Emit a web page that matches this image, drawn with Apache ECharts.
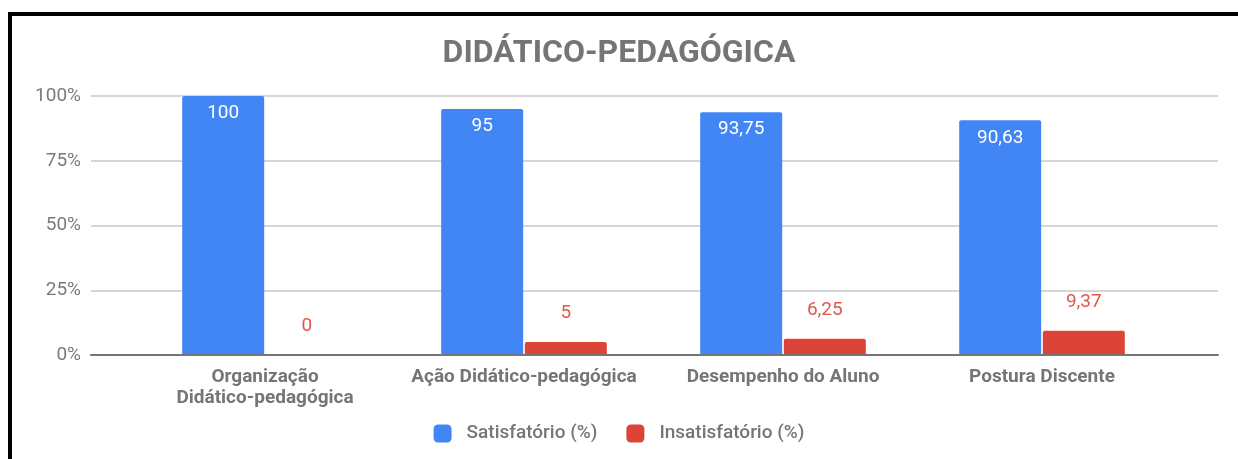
<!DOCTYPE html>
<html>
<head>
<meta charset="utf-8">
<script src="https://cdn.jsdelivr.net/npm/echarts@6/dist/echarts.min.js"></script>
<style>
html,body{margin:0;padding:0;background:#fff;}
#chart{width:1238px;height:459px;}
</style>
</head>
<body>
<div id="chart"></div>
<script>
const titleText = 'DIDÁTICO-PEDAGÓGICA';
const categories = ['Organização\nDidático-pedagógica', 'Ação Didático-pedagógica', 'Desempenho do Aluno', 'Postura Discente'];
const seriesNames = ['Satisfatório (%)', 'Insatisfatório (%)'];
const satisfatorio = [100, 95, 93.75, 90.63];
const insatisfatorio = [0, 5, 6.25, 9.37];
const yTicks = [0, 25, 50, 75, 100];

const gray = '#757575';
const fmt = p => String(p.value).replace('.', ',');

const chart = echarts.init(document.getElementById('chart'));
chart.setOption({
  backgroundColor: '#fff',
  animation: false,
  textStyle: { fontFamily: 'Roboto' },
  title: {
    text: titleText, left: 'center', top: 33,
    textStyle: { fontFamily: 'Roboto', fontSize: 32, fontWeight: 'bold', color: gray }
  },
  graphic: [
    { type: 'rect', shape: { x: 8, y: 12, width: 1230, height: 4 }, style: { fill: '#000' }, silent: true },
    { type: 'rect', shape: { x: 8, y: 12, width: 4, height: 447 }, style: { fill: '#000' }, silent: true }
  ],
  legend: {
    data: seriesNames, top: 421, left: 'center', padding: [3, 5],
    icon: 'roundRect', itemWidth: 18, itemHeight: 18, itemGap: 29,
    textStyle: { fontFamily: 'Roboto', fontSize: 19, fontWeight: 500, color: gray, padding: [0, 0, 0, 10] }
  },
  grid: [
    { left: 91, right: 20, top: 96, bottom: 104 },
    { left: 135.5, right: 66.5, top: 96, bottom: 104 }
  ],
  xAxis: [
    { type: 'category', gridIndex: 0, data: [''], axisLabel: { show: false }, axisTick: { show: false },
      axisLine: { show: true, lineStyle: { color: '#757575', width: 2 } }, z: 10 },
    { type: 'category', gridIndex: 1, data: categories,
      axisLine: { show: false }, axisTick: { show: false },
      axisLabel: { interval: 0, margin: 12, fontFamily: 'Roboto', fontSize: 19, fontWeight: 'bold', color: gray, lineHeight: 21 } }
  ],
  yAxis: [
    { type: 'value', gridIndex: 0, min: yTicks[0], max: yTicks[yTicks.length - 1], interval: 25,
      axisLabel: { formatter: '{value}%', margin: 10, fontFamily: 'Roboto', fontSize: 19, color: '#7a7a7a' },
      axisLine: { show: false }, axisTick: { show: false },
      splitLine: { lineStyle: { color: '#d6d6d6', width: 2 } } },
    { type: 'value', gridIndex: 1, min: 0, max: 100, interval: 25, show: false, splitLine: { show: false } }
  ],
  series: [
    { name: seriesNames[0], type: 'bar', xAxisIndex: 1, yAxisIndex: 1, data: satisfatorio,
      barWidth: 82, barGap: '2%',
      itemStyle: { color: '#4285F4', borderRadius: [2, 2, 0, 0] },
      label: { show: true, position: 'insideTop', distance: 8, formatter: fmt,
        fontFamily: 'Roboto', fontSize: 19, color: '#fff' } },
    { name: seriesNames[1], type: 'bar', xAxisIndex: 1, yAxisIndex: 1, data: insatisfatorio,
      barWidth: 82, barGap: '2%',
      itemStyle: { color: '#DB4437', borderRadius: [2, 2, 0, 0] },
      label: { show: true, position: 'top', distance: 19, formatter: fmt,
        fontFamily: 'Roboto', fontSize: 19, color: '#E2574A' } }
  ]
});
</script>
</body>
</html>
